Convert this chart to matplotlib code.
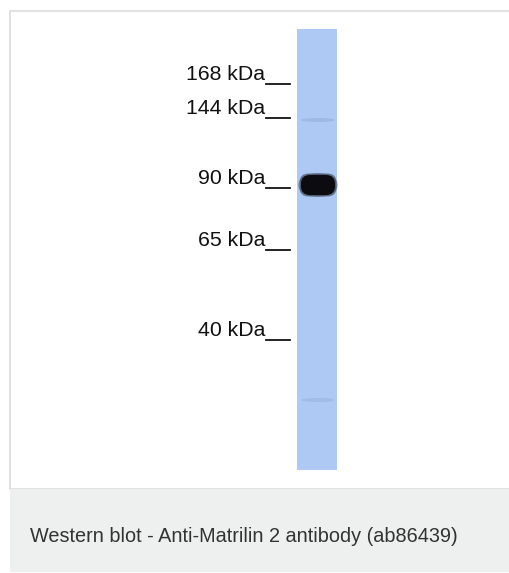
import matplotlib.pyplot as plt
from matplotlib.patches import Rectangle, Ellipse, FancyBboxPatch

# ladder markers (label, row in the blot image)
marker_labels = ['168 kDa', '144 kDa', '90 kDa', '65 kDa', '40 kDa']
marker_rows = [75, 109, 179, 241, 331]

# bands seen in the lane: row and darkness (0..1)
band_rows = [185, 120, 400]
band_strength = [1.0, 0.12, 0.10]

caption = 'Western blot - Anti-Matrilin 2 antibody (ab86439)'

W, H = 510, 573
fig = plt.figure(figsize=(W / 100, H / 100), dpi=100)
ax = fig.add_axes([0, 0, 1, 1])
ax.set_xlim(0, W)
ax.set_ylim(H, 0)
ax.axis('off')

# panel frame and caption strip
ax.add_patch(Rectangle((10, 11), W - 9, 478, facecolor='white',
                       edgecolor='#dcdcdc', linewidth=1.2))
ax.add_patch(Rectangle((10, 489), W - 9, 83, facecolor='#eeefef',
                       edgecolor='none'))
ax.text(30, 537, caption, fontsize=14.3, color='#333333',
        family='Liberation Sans', va='center', ha='left')

# lane
lane_x0, lane_x1, lane_top, lane_bot = 297, 337, 29, 470
ax.add_patch(Rectangle((lane_x0, lane_top), lane_x1 - lane_x0,
                       lane_bot - lane_top, facecolor='#aecaf4',
                       edgecolor='none'))

# bands
for row, s in zip(band_rows, band_strength):
    if s > 0.5:
        ax.add_patch(Ellipse((318, row), 40, 24, facecolor='#1a2030',
                             edgecolor='none', alpha=0.25))
        for pad, a in [(1.5, 0.45), (0, 1.0)]:
            ax.add_patch(FancyBboxPatch((307 - pad, row - 4 - pad),
                                        22 + 2 * pad, 8 + 2 * pad,
                                        boxstyle='round,pad=6,rounding_size=9',
                                        facecolor='#0b0b10', edgecolor='none',
                                        alpha=a))
    else:
        ax.add_patch(Ellipse((318, row), 34, 4, facecolor='#6d86b0',
                             edgecolor='none', alpha=s * 2))

# marker labels
for lab, row in zip(marker_labels, marker_rows):
    ax.text(265, row, lab, fontsize=15.3, family='Liberation Sans',
            color='#111111', ha='right', va='center')
    ax.plot([266, 290], [row + 9, row + 9], color='#111111', lw=1.3)

fig.savefig('out.png', dpi=100)
